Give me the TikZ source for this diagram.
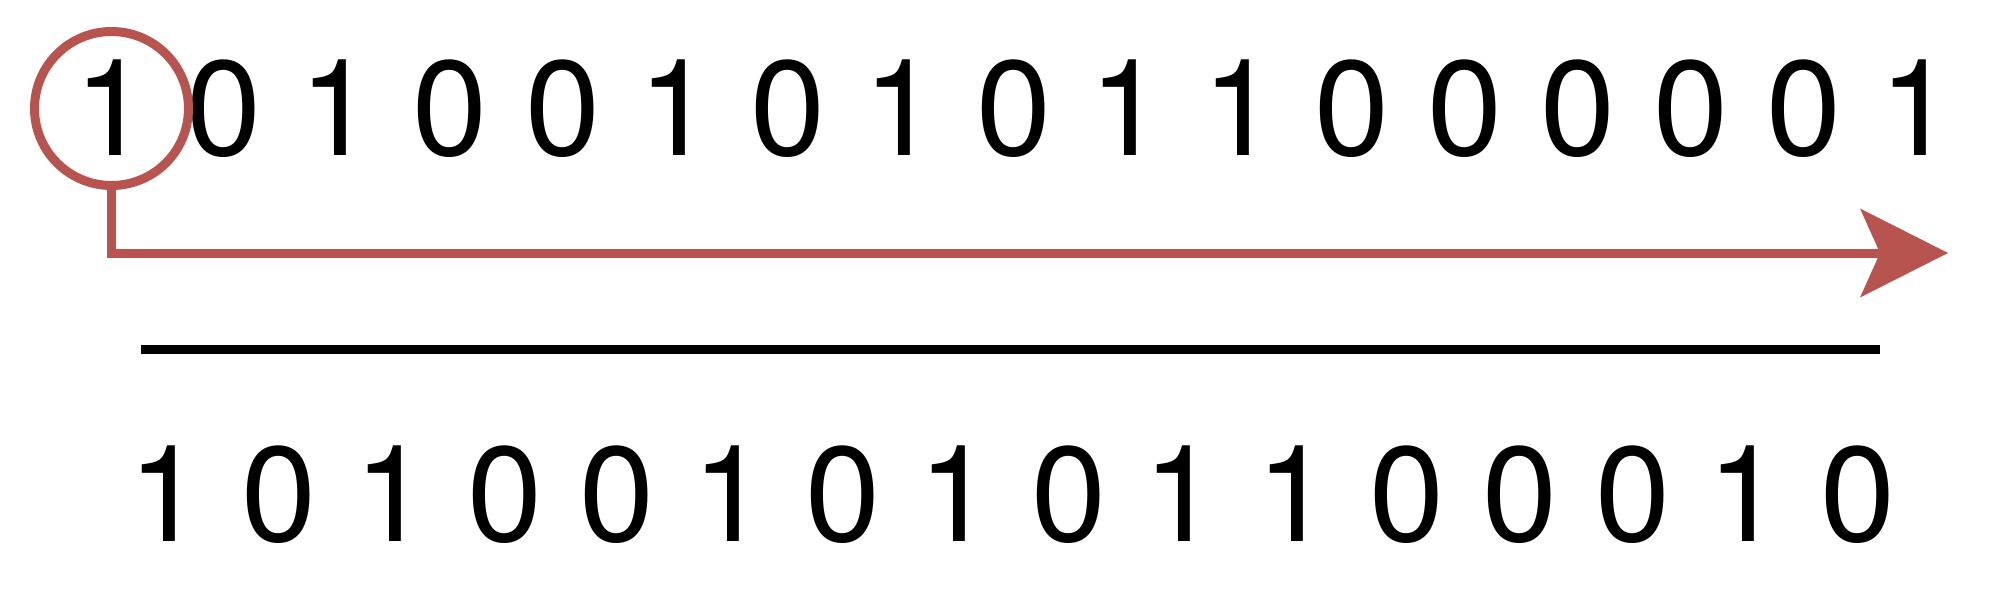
\documentclass[tikz,border=0pt]{standalone}
\usepackage{fontspec}
\setmainfont{TeX Gyre Heros}
\usetikzlibrary{arrows.meta}
\definecolor{ringred}{HTML}{B85450}
\begin{document}
\begin{tikzpicture}[x=0.5pt,y=-0.5pt,
  digit/.style={anchor=base,inner sep=0pt,outer sep=0pt,font=\fontsize{67.5pt}{80pt}\selectfont},
  ring/.style={circle,draw=ringred,line width=4.5pt,minimum size=77pt,inner sep=0pt},
  shiftarrow/.style={draw=ringred,line width=4.5pt,-{Stealth[length=44pt,width=44.5pt,inset=10pt,line width=0pt]}},
  rule/.style={draw=black,line width=4.5pt}]
\useasboundingbox (0,0) rectangle (2000,596);
% top row
\foreach \d [count=\i from 0] in {1,0,1,0,0,1,0,1,0,1,1,0,0,0,0,0,1}
  \node[digit] (t\i) at ({111.7+112.8*\i},155) {\d};
% bottom row
\foreach \d [count=\i from 0] in {1,0,1,0,0,1,0,1,0,1,1,0,0,0,1,0}
  \node[digit] (b\i) at ({166.2+112.8*\i},541) {\d};
% ring around the first bit
\node[ring] (ring) at (111.5,108.5) {};
\coordinate (tip) at (1948,253);
\draw[shiftarrow] (ring.south) |- (tip);
% rule
\coordinate (r1) at (140.5,349.5);
\coordinate (r2) at (1880,349.5);
\draw[rule] (r1) -- (r2);
\end{tikzpicture}
\end{document}
